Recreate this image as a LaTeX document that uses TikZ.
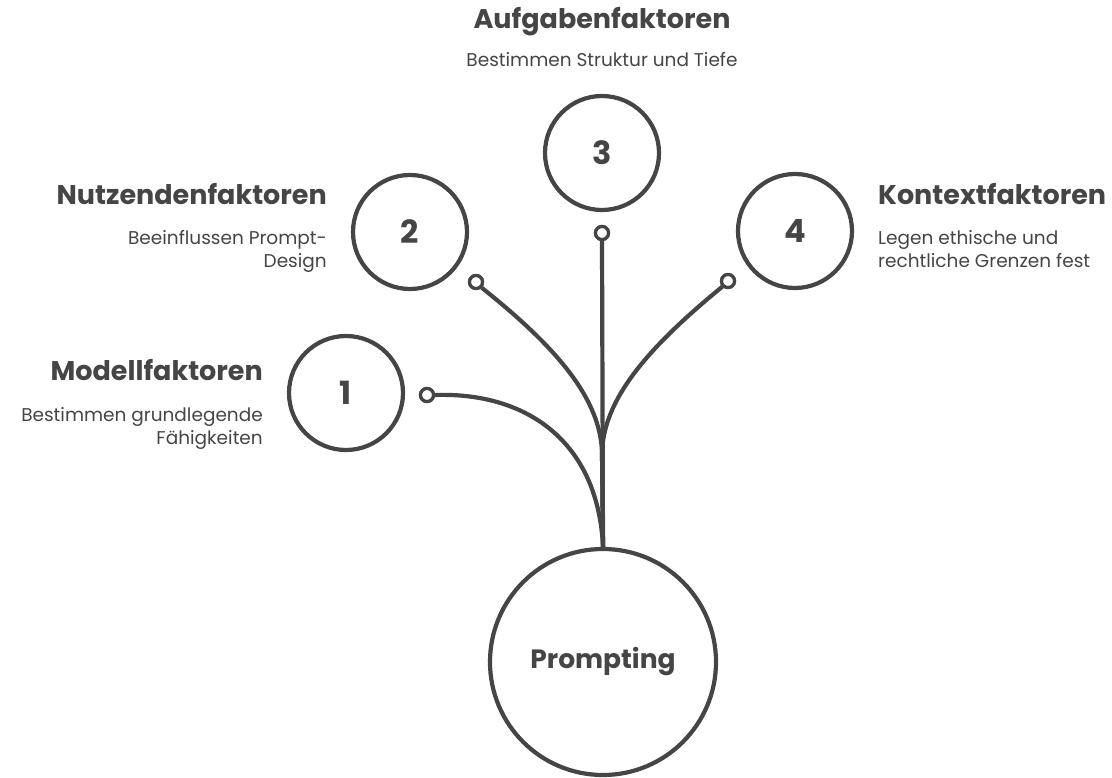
\documentclass[tikz,border=0pt]{standalone}
\usepackage{fontspec}
\setmainfont{Poppins}
\definecolor{ink}{HTML}{454545}
\begin{document}
\begin{tikzpicture}[x=1pt,y=-1pt,
  big/.style={circle,draw=ink,line width=4.2pt,minimum size=114pt,inner sep=0pt,text=ink,font=\fontsize{32}{34}\selectfont\bfseries},
  root/.style={circle,draw=ink,line width=4.2pt,minimum size=226pt,inner sep=0pt,text=ink,font=\fontsize{26.5}{28}\selectfont\bfseries},
  dot/.style={circle,draw=ink,line width=3.2pt,minimum size=13pt,inner sep=0pt,fill=white},
  conn/.style={draw=ink,line width=4.2pt,line join=round},
  ttl/.style={text=ink,font=\fontsize{27}{30}\selectfont\bfseries,inner sep=0pt},
  sub/.style={text=ink,font=\fontsize{18.5}{23}\selectfont,inner sep=0pt,align=#1},
]
\useasboundingbox (0,0) rectangle (1112,778);
% main circles
\node[root] (P) at (603,662) {Prompting};
\node[big] (c1) at (346,393) {1};
\node[big] (c2) at (410,232) {2};
\node[big] (c3) at (602,153) {3};
\node[big] (c4) at (795,231) {4};
% connector end dots
\node[dot] (d1) at (427,395) {};
\node[dot] (d2) at (476,282) {};
\node[dot] (d3) at (602,233) {};
\node[dot] (d4) at (728,281) {};
\coordinate (m) at (602,452);
% connectors
\draw[conn] (d1.east) .. controls (525,392) and (598,440) .. (P.north);
\draw[conn] (d2.south east) .. controls (560,350) and (600,400) .. (m) -- (P.north);
\draw[conn] (d3.south) -- (P.north);
\draw[conn] (d4.south west) .. controls (645,350) and (604,400) .. (m) -- (P.north);
% redraw dots on top
\node[dot] at (d1) {};
\node[dot] at (d2) {};
\node[dot] at (d3) {};
\node[dot] at (d4) {};
% labels
\node[ttl,anchor=base] (t3) at (602,29) {Aufgabenfaktoren};
\node[sub=center,anchor=base] (s3) at (602,67) {Bestimmen Struktur und Tiefe};
\node[ttl,anchor=base east] (t2) at (327,205) {Nutzendenfaktoren};
\node[sub=right,anchor=base east] (s2) at (327,268) {Beeinflussen Prompt-\\Design};
\node[ttl,anchor=base west] (t4) at (878,205) {Kontextfaktoren};
\node[sub=left,anchor=base west] (s4) at (878,268) {Legen ethische und\\rechtliche Grenzen fest};
\node[ttl,anchor=base east] (t1) at (263,381) {Modellfaktoren};
\node[sub=right,anchor=base east] (s1) at (263,444) {Bestimmen grundlegende\\Fähigkeiten};
\end{tikzpicture}
\end{document}
